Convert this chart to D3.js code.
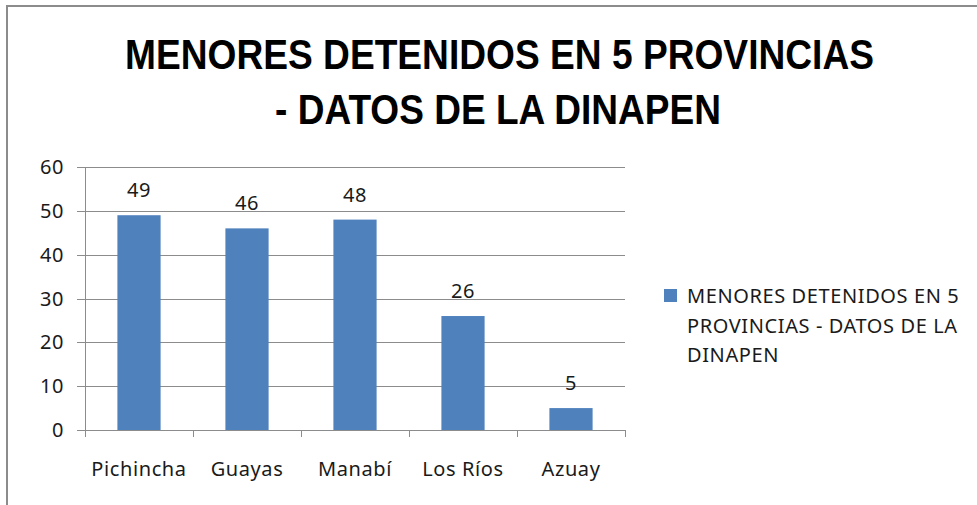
<!DOCTYPE html>
<html>
<head>
<meta charset="utf-8">
<script src="https://cdn.jsdelivr.net/npm/d3@7"></script>
<style>
  body { margin: 0; background: #fff; }
  text { font-family: "Noto Sans", "Open Sans", sans-serif; fill: #1a1a1a; }
</style>
</head>
<body>
<div id="chart"></div>
<script>
// data
var provincias = ["Pichincha", "Guayas", "Manabí", "Los Ríos", "Azuay"];
var detenidos = [49, 46, 48, 26, 5];
var yTicks = [0, 10, 20, 30, 40, 50, 60];
var titleLines = ["MENORES DETENIDOS EN 5 PROVINCIAS", "- DATOS DE LA DINAPEN"];
var legendLines = ["MENORES DETENIDOS EN 5", "PROVINCIAS - DATOS DE LA", "DINAPEN"];

var width = 977,
    height = 505;

var svg = d3.select("#chart")
  .append("svg")
    .attr("width", width)
    .attr("height", height);

// chart frame (only top + left visible in the crop)
svg.append("path")
  .attr("d", "M7,505 V6 H977")
  .attr("fill", "none")
  .attr("stroke", "#8c8c8c")
  .attr("stroke-width", 2);

// title
var titleX = [499.5, 498];
var titleY = [69, 124];
var titleW = [749, 446];
svg.selectAll("text.title")
  .data(titleLines)
  .enter()
  .append("text")
    .attr("class", "title")
    .attr("x", function(d, i) { return titleX[i]; })
    .attr("y", function(d, i) { return titleY[i]; })
    .attr("text-anchor", "middle")
    .attr("textLength", function(d, i) { return titleW[i]; })
    .attr("lengthAdjust", "spacingAndGlyphs")
    .style("font-family", "'Liberation Sans', Arial, sans-serif")
    .style("font-weight", "bold")
    .style("font-size", "42px")
    .style("fill", "#000")
    .text(function(d) { return d; });

// scales
var x = d3.scaleBand()
  .domain(provincias)
  .range([85, 625])
  .paddingInner(0.6)
  .paddingOuter(0.3);

var xEdges = d3.scaleLinear()
  .domain([0, provincias.length])
  .range([85, 625]);

var y = d3.scaleLinear()
  .domain([0, 60])
  .range([430, 167]);

// gridlines + left ticks
var g = svg.append("g");
g.selectAll("line.grid")
  .data(yTicks)
  .enter()
  .append("line")
    .attr("x1", 77)
    .attr("x2", 625)
    .attr("y1", function(d) { return Math.round(y(d)) + 0.5; })
    .attr("y2", function(d) { return Math.round(y(d)) + 0.5; })
    .attr("stroke", "#8c8c8c")
    .attr("stroke-width", 1);

// y axis line
g.append("line")
  .attr("x1", 85.5).attr("x2", 85.5)
  .attr("y1", y(60)).attr("y2", y(0))
  .attr("stroke", "#8c8c8c");

// bottom category ticks
g.selectAll("line.xtick")
  .data(d3.range(provincias.length + 1))
  .enter()
  .append("line")
    .attr("x1", function(d) { return Math.round(xEdges(d)) + 0.5; })
    .attr("x2", function(d) { return Math.round(xEdges(d)) + 0.5; })
    .attr("y1", y(0))
    .attr("y2", y(0) + 7)
    .attr("stroke", "#8c8c8c");

// y labels
g.selectAll("text.ylab")
  .data(yTicks)
  .enter()
  .append("text")
    .attr("x", 64)
    .attr("y", function(d) { return y(d) + 7; })
    .attr("text-anchor", "end")
    .style("font-size", "20px")
    .style("letter-spacing", "0.6px")
    .text(function(d) { return d; });

// bars
svg.selectAll("rect.bar")
  .data(detenidos)
  .enter()
  .append("rect")
    .attr("x", function(d, i) { return x(provincias[i]); })
    .attr("y", function(d) { return y(d); })
    .attr("width", x.bandwidth())
    .attr("height", function(d) { return y(0) - y(d); })
    .attr("fill", "#4f81bd");

// value labels
svg.selectAll("text.val")
  .data(detenidos)
  .enter()
  .append("text")
    .attr("x", function(d, i) { return x(provincias[i]) + x.bandwidth() / 2; })
    .attr("y", function(d) { return y(d) - 18; })
    .attr("text-anchor", "middle")
    .style("font-size", "20px")
    .style("letter-spacing", "0.6px")
    .text(function(d) { return d; });

// category labels
svg.selectAll("text.cat")
  .data(provincias)
  .enter()
  .append("text")
    .attr("x", function(d) { return x(d) + x.bandwidth() / 2; })
    .attr("y", 476)
    .attr("text-anchor", "middle")
    .style("font-size", "20px")
    .style("letter-spacing", "0.6px")
    .text(function(d) { return d; });

// legend
svg.append("rect")
  .attr("x", 664)
  .attr("y", 289)
  .attr("width", 13)
  .attr("height", 13)
  .attr("fill", "#4f81bd");

svg.selectAll("text.leg")
  .data(legendLines)
  .enter()
  .append("text")
    .attr("x", 687)
    .attr("y", function(d, i) { return 303 + i * 29.5; })
    .style("font-size", "20px")
    .style("letter-spacing", "0.6px")
    .text(function(d) { return d; });
</script>
</body>
</html>
